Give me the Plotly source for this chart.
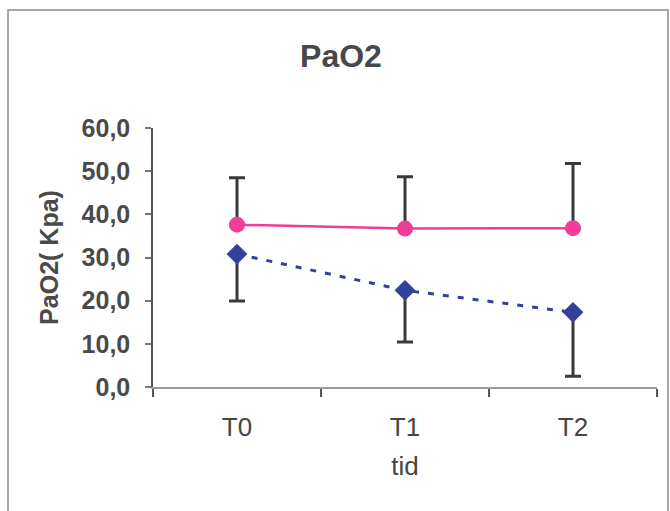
import plotly.graph_objects as go

categories = ["T0", "T1", "T2"]
pink_mean = [37.6, 36.7, 36.8]
pink_err_up = [10.9, 12.0, 15.0]
blue_mean = [30.8, 22.4, 17.3]
blue_err_down = [10.9, 12.0, 14.8]
y_ticks = [0, 10, 20, 30, 40, 50, 60]

W, H = 670, 511
L, R, T, B = 153, 13, 128, 124

fig = go.Figure()
fig.add_trace(go.Scatter(
    x=categories, y=pink_mean, mode="lines+markers",
    line=dict(color="#F23D97", width=2.5),
    marker=dict(symbol="circle", size=16, color="#F23D97"),
    error_y=dict(type="data", symmetric=False, array=pink_err_up,
                 arrayminus=[0, 0, 0], color="#3a3a3a", thickness=3, width=8),
    showlegend=False))
fig.add_trace(go.Scatter(
    x=categories, y=blue_mean, mode="lines+markers",
    line=dict(color="#33419B", width=3, dash="6px,9px"),
    marker=dict(symbol="diamond", size=16, color="#33419B"),
    error_y=dict(type="data", symmetric=False, array=[0, 0, 0],
                 arrayminus=blue_err_down, color="#3a3a3a", thickness=3, width=8),
    showlegend=False))

pw = W - L - R
ph = H - T - B
fig.add_shape(type="rect", xref="paper", yref="paper",
              x0=(8 - L) / pw, x1=(668 - L) / pw,
              y0=(H - B - 530) / ph, y1=(H - B - 10) / ph,
              line=dict(color="#8a8a8a", width=1.5), fillcolor="rgba(0,0,0,0)",
              layer="below")

fig.update_layout(
    width=W, height=H,
    margin=dict(l=L, r=R, t=T, b=B),
    paper_bgcolor="white", plot_bgcolor="white",
    separators=",.",
    font=dict(family="Liberation Sans, Arial, sans-serif", color="#444444"),
    title=dict(text="<b>PaO2</b>", x=341 / W, xanchor="center",
               y=1 - 56 / H, yanchor="middle",
               font=dict(size=32, color="#484848")),
    xaxis=dict(type="category", range=[-0.5, 2.5], showgrid=False,
               showline=True, linecolor="#9a9a9a", linewidth=1.5,
               ticks="outside", tickson="boundaries", ticklen=8, tickcolor="#555555",
               tickwidth=1.5,
               tickfont=dict(size=26, color="#454545"),
               ticklabelstandoff=16,
               title=dict(text="tid", font=dict(size=26, color="#454545"), standoff=16),
               zeroline=False, fixedrange=True),
    yaxis=dict(range=[0, 60], tickvals=y_ticks, tickformat=".1f", showgrid=False,
               showline=True, linecolor="#555555", linewidth=1.5,
               ticks="outside", ticklen=6, tickcolor="#777777", tickwidth=1.5,
               tickfont=dict(size=25, color="#4a4a4a", weight="bold"),
               ticklabelstandoff=10,
               title=dict(text="<b>PaO2( Kpa)</b>", font=dict(size=25, color="#4a4a4a"),
                          standoff=16),
               zeroline=False, fixedrange=True),
)

fig.write_html("out.html")
